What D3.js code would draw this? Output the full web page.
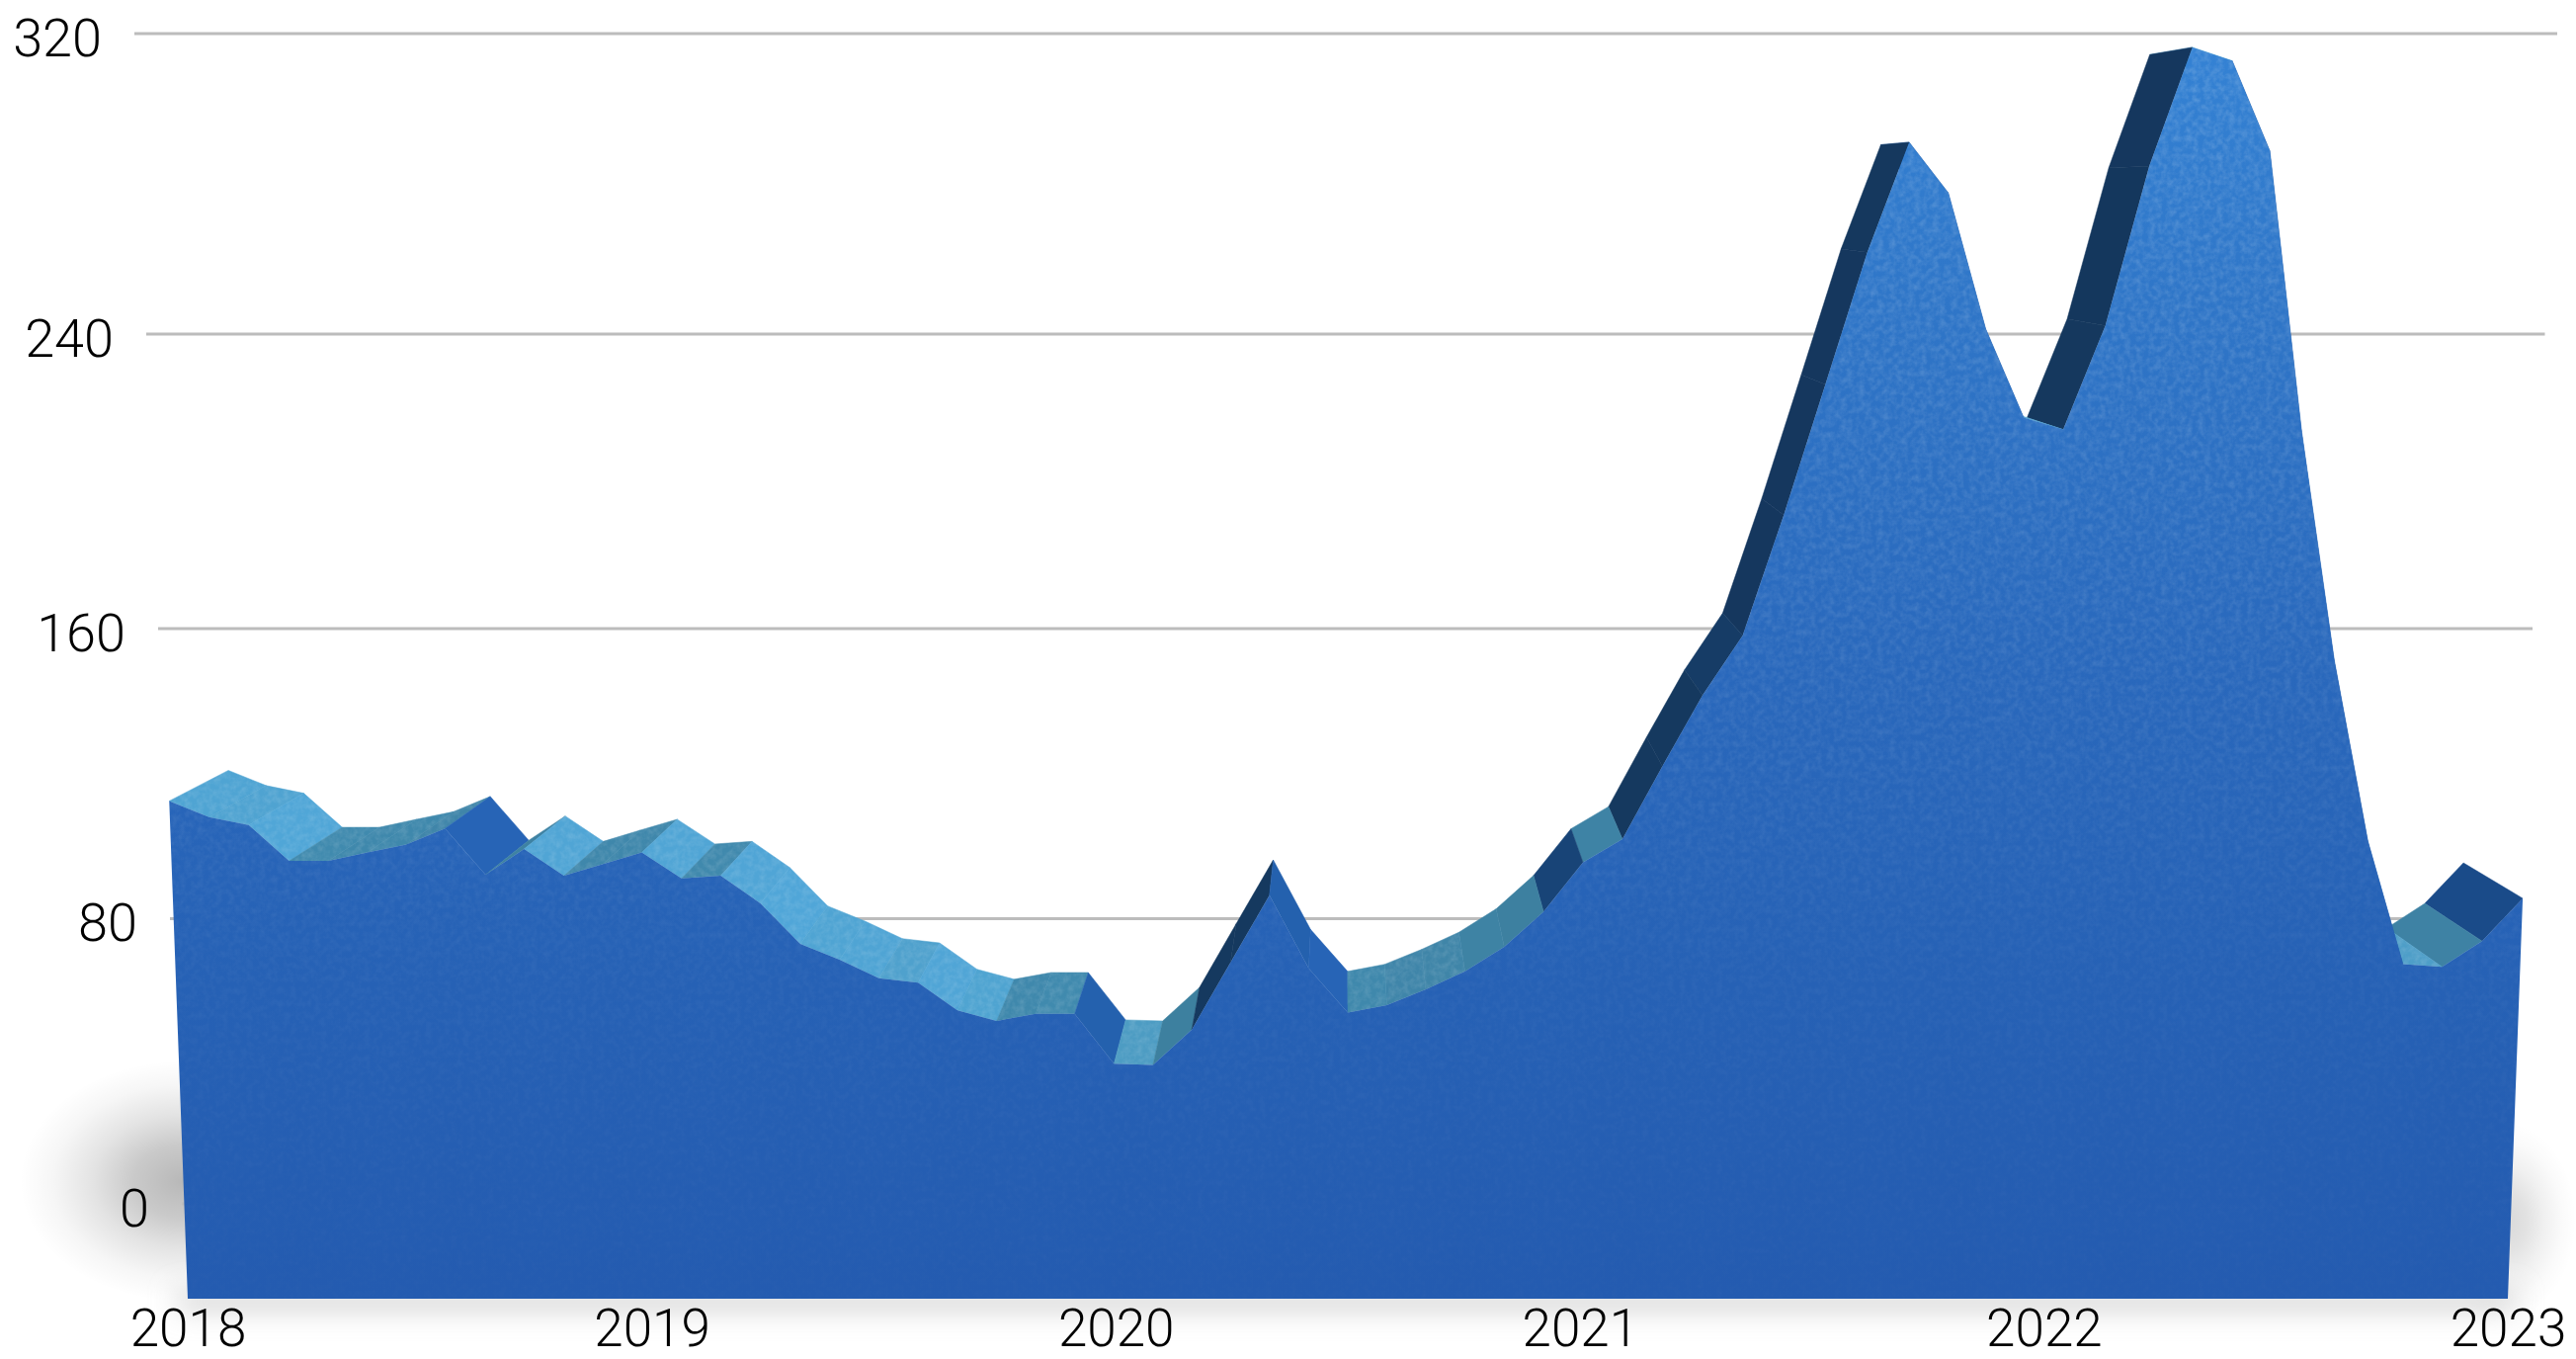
<!DOCTYPE html>
<html>
<head>
<meta charset="utf-8">
<script src="https://cdn.jsdelivr.net/npm/d3@7"></script>
<style>
  html, body { margin: 0; padding: 0; background: #fff; }
  svg { display: block; }
  text { font-family: Roboto, "Liberation Sans", sans-serif; font-weight: 300; fill: #000; }
</style>
</head>
<body>
<div id="chart"></div>
<script>
// monthly values, Jan 2018 to Jan 2023
var values = [
  120.9, 116.7, 114.6, 105.2, 105.2, 107.4, 109.5, 113.7, 101.6, 108.3, 101.3, 104.4,
  107.4, 100.6, 101.3, 94.1, 83.5, 79.3, 74.4, 73.2, 65.8, 63.0, 64.9, 64.9,
  51.6, 51.3, 60.7, 78.6, 96.2, 77.0, 65.2, 67.2, 71.4, 76.2, 82.7, 91.9,
  104.8, 110.9, 130.0, 148.6, 164.2, 195.3, 228.9, 262.6, 290.4, 277.6, 243.2, 220.4,
  217.3, 244.0, 284.3, 314.4, 311.0, 288.2, 216.9, 157.8, 110.4, 78.1, 77.4, 84.2,
  95.4
];
var yearTicks = [2018, 2019, 2020, 2021, 2022, 2023];
var valueTicks = [0, 80, 160, 240, 320];

var width = 2607, height = 1375;
var baseY = 1314;          // floor edge of the front face
var depth = 0.0503;        // how far the back face shrinks toward the vanishing point
var vanish = [1361, 195];
var flare = 0.0372;        // front face gets wider going up

var svg = d3.select("#chart").append("svg")
  .attr("width", width)
  .attr("height", height);

// the wall is slightly foreshortened so the value scale has uneven steps
var y = d3.scaleLinear()
  .domain(valueTicks)
  .range([1218, 929.5, 636, 338, 34]);

var xBase = d3.scaleLinear()
  .domain([2018, 2023])
  .range([190, 2538]);

var gridLeft = d3.scaleLinear().domain([0, 320]).range([184, 136]);
var gridRight = d3.scaleLinear().domain([0, 320]).range([2538, 2588]);

// facet shade from the screen angle of its edge, negative is rising
var shade = d3.scaleLinear()
  .domain([-90, -58, -46, -45, -20, 0, 1, 8, 46.5, 47, 49, 50, 90])
  .range(["#14355c", "#15395f", "#1a4c8a", "#3d7f9e", "#3f86aa", "#408aae", "#4d9bc2", "#4fa3d0", "#50a6d8", "#2764b6", "#2764b6", "#2461ae", "#2461ae"]);

var center = (xBase(2018) + xBase(2023)) / 2;
var halfBase = (xBase(2023) - xBase(2018)) / 2;

// value on the wall -> point on the back edge -> point on the front edge
function frontPoint(v, i) {
  var fy = (y(v) - depth * vanish[1]) / (1 - depth);
  var half = halfBase + (baseY - fy) * flare;
  var t = 2018 + i / 12;
  return [center + (xBase(t) - center) / halfBase * half, fy];
}
function backPoint(p) {
  return [p[0] + depth * (vanish[0] - p[0]), p[1] + depth * (vanish[1] - p[1])];
}
function edgeShade(i) {
  var dx = front[i + 1][0] - front[i][0];
  var dy = front[i + 1][1] - front[i][1];
  return shade(Math.atan2(dy, dx) * 180 / Math.PI);
}

var front = values.map(frontPoint);
var back = front.map(backPoint);

var defs = svg.append("defs");

var grad = defs.append("linearGradient")
  .attr("id", "faceFill")
  .attr("gradientUnits", "userSpaceOnUse")
  .attr("x1", 0).attr("x2", 0).attr("y1", 48).attr("y2", baseY);
grad.selectAll("stop")
  .data([[0, "#3482d4"], [0.2, "#2f76c8"], [0.5, "#2968bc"], [0.75, "#2661b5"], [1, "#245bb0"]])
  .enter().append("stop")
  .attr("offset", function(d) { return d[0]; })
  .attr("stop-color", function(d) { return d[1]; });

// grain is strong near the top of the face and nearly gone at the floor
var grainFade = defs.append("linearGradient")
  .attr("id", "grainFade")
  .attr("gradientUnits", "userSpaceOnUse")
  .attr("x1", 0).attr("x2", 0).attr("y1", 48).attr("y2", baseY);
grainFade.selectAll("stop")
  .data([[0, 0.17], [0.45, 0.11], [0.75, 0.04], [1, 0.015]])
  .enter().append("stop")
  .attr("offset", function(d) { return d[0]; })
  .attr("stop-color", "#fff")
  .attr("stop-opacity", function(d) { return d[1]; });

var shadowFill = defs.append("radialGradient").attr("id", "shadowFill");
shadowFill.selectAll("stop")
  .data([[0, 0.28], [0.3, 0.21], [0.55, 0.11], [0.8, 0.035], [1, 0]])
  .enter().append("stop")
  .attr("offset", function(d) { return d[0]; })
  .attr("stop-color", "#000")
  .attr("stop-opacity", function(d) { return d[1]; });

defs.append("filter").attr("id", "softLow")
  .attr("x", "-10%").attr("y", "-300%").attr("width", "120%").attr("height", "700%")
  .append("feGaussianBlur").attr("stdDeviation", 14);

// speckle noise, cut to the shape it is applied to
var grain = defs.append("filter").attr("id", "grain")
  .attr("color-interpolation-filters", "sRGB");
grain.append("feTurbulence")
  .attr("type", "fractalNoise").attr("baseFrequency", 0.16).attr("numOctaves", 3).attr("seed", 4)
  .attr("result", "noise");
grain.append("feColorMatrix")
  .attr("in", "noise").attr("type", "matrix")
  .attr("values", "0 0 0 0 1  0 0 0 0 1  0 0 0 0 1  1.9 0 0 0 -0.65")
  .attr("result", "specks");
grain.append("feComposite")
  .attr("in", "specks").attr("in2", "SourceAlpha").attr("operator", "in");

// shadow on the floor
var shadow = svg.append("g");
shadow.append("ellipse")
  .attr("cx", 185).attr("cy", 1195).attr("rx", 165).attr("ry", 122)
  .attr("fill", "url(#shadowFill)");
shadow.append("ellipse")
  .attr("cx", 2535).attr("cy", 1235).attr("rx", 72).attr("ry", 100)
  .attr("fill", "url(#shadowFill)")
  .attr("opacity", 0.55);
shadow.append("rect")
  .attr("x", 180).attr("y", 1308).attr("width", 2365).attr("height", 16)
  .attr("fill", "#c8c8c8").attr("filter", "url(#softLow)");

// grid lines on the back wall
svg.append("g").selectAll("line")
  .data(valueTicks)
  .enter().append("line")
  .attr("x1", function(d) { return gridLeft(d); })
  .attr("x2", function(d) { return gridRight(d); })
  .attr("y1", function(d) { return y(d); })
  .attr("y2", function(d) { return y(d); })
  .attr("stroke", "#bcbcbc")
  .attr("stroke-width", 3.2);

// side facets, painted from the outside in so nearer ones win
var order = d3.range(values.length - 1).sort(function(a, b) {
  return Math.abs(front[b][0] - vanish[0]) - Math.abs(front[a][0] - vanish[0]);
});

var line = d3.line();

function facetPath(i) {
  return line([front[i], front[i + 1], back[i + 1], back[i]]) + "Z";
}

svg.append("g").selectAll("g")
  .data(order)
  .enter().append("g")
  .each(function(i) {
    var g = d3.select(this);
    g.append("path")
      .attr("d", facetPath(i))
      .attr("fill", edgeShade(i))
      .attr("stroke", edgeShade(i))
      .attr("stroke-width", 0.5);
    // the dark facets hardly show the grain
    if (d3.hsl(edgeShade(i)).l > 0.45) {
      g.append("path")
        .attr("d", facetPath(i))
        .attr("fill", "#fff")
        .attr("opacity", 0.12)
        .attr("filter", "url(#grain)");
    }
  });

// front face down to the floor
var outline = line(front.concat([[xBase(2023), baseY], [xBase(2018), baseY]])) + "Z";
svg.append("path")
  .attr("d", outline)
  .attr("fill", "url(#faceFill)");
svg.append("path")
  .attr("d", outline)
  .attr("fill", "url(#grainFade)")
  .attr("filter", "url(#grain)");

// value labels follow the slanted left edge of the wall
svg.append("g").selectAll("text")
  .data(valueTicks)
  .enter().append("text")
  .attr("x", function(d) { return gridLeft(d) - 33; })
  .attr("y", function(d) { return y(d) + 4; })
  .attr("dy", "0.35em")
  .attr("text-anchor", "end")
  .attr("font-size", 54)
  .text(function(d) { return d; });

// year labels under the floor edge
var xAxis = svg.append("g")
  .attr("transform", "translate(0,1324)")
  .call(d3.axisBottom(xBase)
    .tickValues(yearTicks)
    .tickFormat(d3.format("d"))
    .tickSize(0)
    .tickPadding(0));
xAxis.select(".domain").remove();
xAxis.selectAll("text")
  .attr("font-size", 53)
  .attr("fill", "#000");
xAxis.attr("font-family", null).attr("font-size", null);
</script>
</body>
</html>
